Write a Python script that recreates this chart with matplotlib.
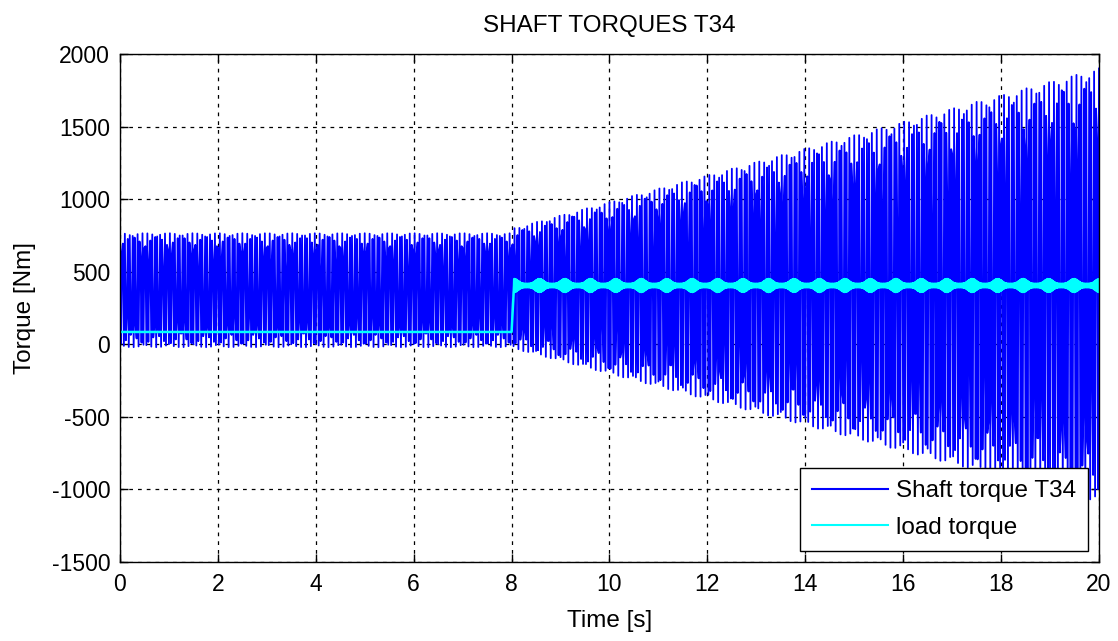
import numpy as np
import matplotlib
matplotlib.use('Agg')
import matplotlib.pyplot as plt

# envelope of the shaft torque (Nm)
env_t = [0.0, 8.0, 8.05, 20.0]
env_hi = [765, 765, 800, 1900]
env_lo = [-20, -20, -30, -1090]

# load torque (Nm)
load_t = [0.0, 8.0, 8.05, 20.0]
load_lv = [85, 85, 405, 405]
load_ripple = 45          # peak ripple of the bursts after the step
burst_period = 0.52       # s between ripple bursts

# oscillation used for the shaft torque (cannot be read sample by sample)
f_shaft = 19.6            # Hz
dt_shaft = 0.02           # s
f_ripple = 60.0           # Hz
dt_load = 0.002

plt.rcParams['font.family'] = ['Liberation Sans', 'DejaVu Sans']
plt.rcParams['axes.unicode_minus'] = False


def shaft_torque():
    t = np.arange(0, 20 + dt_shaft / 2, dt_shaft)
    hi = np.interp(t, env_t, env_hi)
    lo = np.interp(t, env_t, env_lo)
    c = np.cos(2 * np.pi * f_shaft * t)
    c = np.sign(c) * np.abs(c) ** 0.25
    y = (hi + lo) / 2 + (hi - lo) / 2 * c
    return t, y


def load_torque():
    t = np.arange(0, 20 + dt_load / 2, dt_load)
    y = np.interp(t, load_t, load_lv)
    burst = np.cos(np.pi * (t - 8.05) / burst_period) ** 4
    amp = np.where(t > 8.05, load_ripple * (0.25 + 0.75 * burst), 0)
    y = y + amp * np.sin(2 * np.pi * f_ripple * t)
    return t, y


def draw_chart():
    fig = plt.figure(figsize=(11.18, 6.41), dpi=100)
    ax = fig.add_axes([0.1073, 0.1232, 0.8757, 0.7926])

    t1, y1 = shaft_torque()
    t2, y2 = load_torque()
    ax.plot(t1, y1, color=(0, 0, 1), linewidth=1.3, label='Shaft torque T34')
    ax.plot(t2, y2, color=(0, 1, 1), linewidth=1.8, label='load torque')

    ax.set_xlim(0, 20)
    ax.set_ylim(-1500, 2000)
    ax.set_xticks(range(0, 21, 2))
    ax.set_yticks(range(-1500, 2001, 500))
    ax.grid(True, color='black', linestyle=(0, (3, 4)), linewidth=0.9)
    ax.tick_params(direction='in', top=True, right=True, length=6, labelsize=16.5, width=1)
    ax.tick_params(axis='x', pad=8)
    ax.tick_params(axis='y', pad=7)
    for s in ax.spines.values():
        s.set_linewidth(1.0)

    ax.set_title('SHAFT TORQUES T34', fontsize=17.5, pad=16)
    ax.set_xlabel('Time [s]', fontsize=17.5, labelpad=10)
    ax.set_ylabel('Torque [Nm]', fontsize=17.5, labelpad=11)

    leg = ax.legend(loc='lower right', fontsize=17.5, fancybox=False, framealpha=1,
                    edgecolor='black', handlelength=3.1, handletextpad=0.33,
                    labelspacing=0.6, borderaxespad=0.45, borderpad=0.5)
    leg.get_frame().set_linewidth(1.0)
    for line in leg.get_lines():
        line.set_linewidth(1.5)

    fig.savefig('out.png', dpi=100)


if __name__ == '__main__':
    draw_chart()
